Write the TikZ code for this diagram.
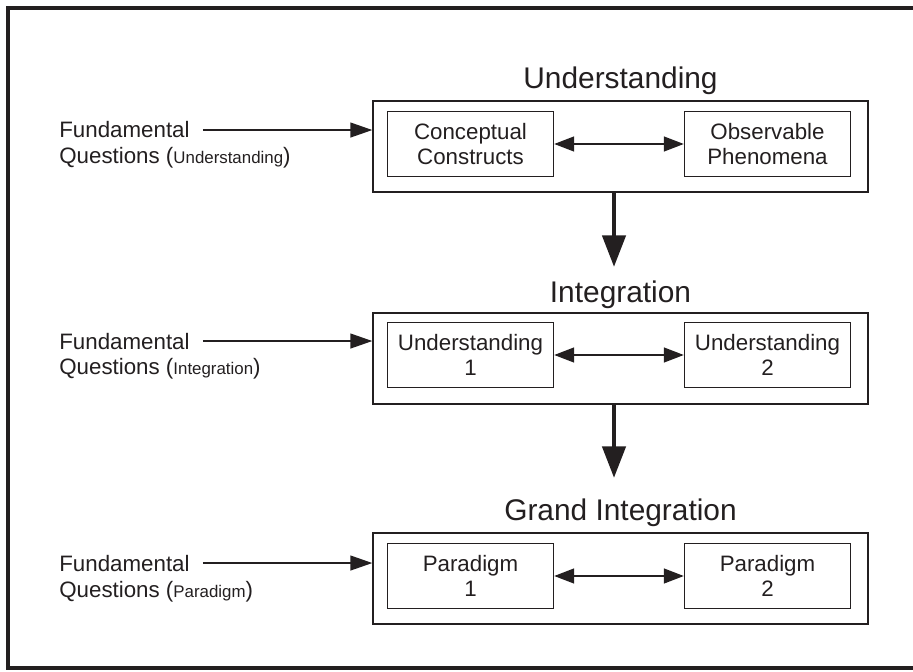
\documentclass[tikz,border=0pt]{standalone}
\usepackage{fontspec}
\setmainfont{Liberation Sans}
\usepackage{tikz}
\usetikzlibrary{arrows.meta,positioning}
\definecolor{ink}{RGB}{35,31,32}

\begin{document}
\begin{tikzpicture}[x=0.02cm,y=-0.02cm,color=ink,
     outerbox/.style={draw=ink,line width=0.85pt,minimum width=9.9cm,minimum height=1.82cm,inner sep=0},
     innerbox/.style={draw=ink,line width=0.85pt,minimum width=3.32cm,minimum height=1.3cm,inner sep=0,
                      align=center,font=\fontsize{12.7}{14.5}\selectfont},
     ttl/.style={anchor=base,inner sep=0,font=\fontsize{17}{20}\selectfont},
     lbl/.style={anchor=base west,inner sep=0,font=\fontsize{12.7}{14.5}\selectfont},
     link/.style={line width=0.75pt,{Triangle[length=11.3pt,width=8.5pt]}-{Triangle[length=11.3pt,width=8.5pt]}},
     feed/.style={line width=0.75pt,shorten <=7.4pt,-{Triangle[length=12.5pt,width=8.5pt]}},
     bigarrow/.style={line width=2.8pt,-{Triangle[length=18pt,width=13pt]}}]
   \useasboundingbox (0,0) rectangle (913,672);
   % frame, open on the right
   \draw[line width=2.3pt] (913,8) -- (8,8) -- (8,668) -- (913,668);

   % understanding
   \node[ttl] (ut) at (620.5,89) {Understanding};
   \node[outerbox] (ub) at (620.5,146.5) {};
   \node[innerbox] (cc) at (470.5,144) {Conceptual\\Constructs};
   \node[innerbox] (op) at (767.5,144) {Observable\\Phenomena};
   \draw[link] (cc) -- (op);
   \node[lbl] (f1) at (59,138) {Fundamental};
   \node[lbl] (q1) at (59,164) {Questions ({\fontsize{9.6}{11}\selectfont Understanding})};
   \draw[feed] (f1.east) -- (f1.east -| ub.west);

   % integration
   \coordinate (d1) at (614,267);
   \draw[bigarrow] (d1 |- ub.south) -- (d1);
   \node[ttl] (it) at (620.5,302) {Integration};
   \node[outerbox] (ib) at (620.5,358.5) {};
   \node[innerbox] (u1) at (470.5,355) {Understanding\\1};
   \node[innerbox] (u2) at (767.5,355) {Understanding\\2};
   \draw[link] (u1) -- (u2);
   \node[lbl] (f2) at (59,349) {Fundamental};
   \node[lbl] (q2) at (59,375) {Questions ({\fontsize{9.6}{11}\selectfont Integration})};
   \draw[feed] (f2.east) -- (f2.east -| ib.west);

   % grand integration
   \coordinate (d2) at (614,478);
   \draw[bigarrow] (d2 |- ib.south) -- (d2);
   \node[ttl] (gt) at (620.5,520) {Grand Integration};
   \node[outerbox] (gb) at (620.5,578.5) {};
   \node[innerbox] (p1) at (470.5,576) {Paradigm\\1};
   \node[innerbox] (p2) at (767.5,576) {Paradigm\\2};
   \draw[link] (p1) -- (p2);
   \node[lbl] (f3) at (59,571) {Fundamental};
   \node[lbl] (q3) at (59,597) {Questions ({\fontsize{9.6}{11}\selectfont Paradigm})};
   \draw[feed] (f3.east) -- (f3.east -| gb.west);
\end{tikzpicture}
\end{document}
